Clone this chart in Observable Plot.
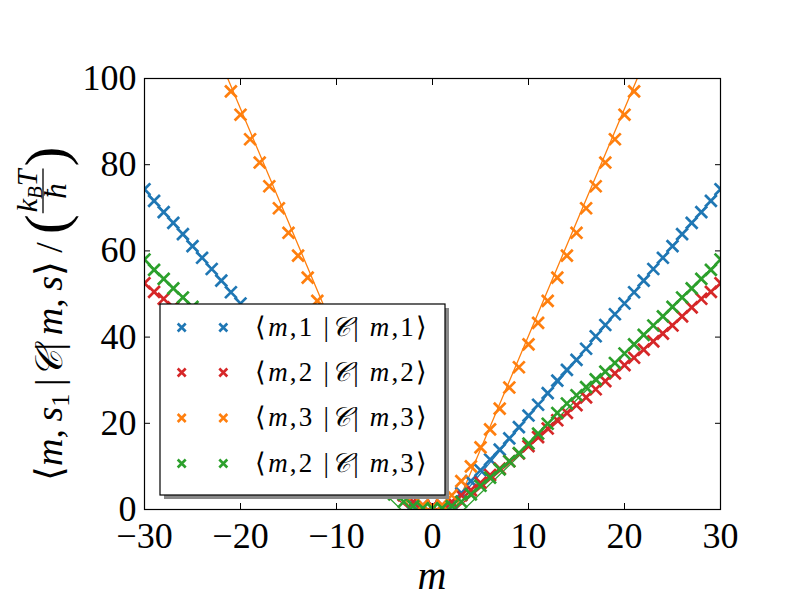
<!DOCTYPE html>
<html><head><meta charset="utf-8">
<script src="https://cdn.jsdelivr.net/npm/d3@7"></script>
<script src="https://cdn.jsdelivr.net/npm/@observablehq/plot@0.6"></script>
<style>body{margin:0;background:#fff} svg text{font-family:"Liberation Serif",serif !important}</style>
</head><body><div id="chart"></div>
<script>
// m values (integer quantum number)
const mAll = [-30,-29,-28,-27,-26,-25,-24,-23,-22,-21,-20,-19,-18,-17,-16,-15,-14,-13,-12,-11,-10,-9,-8,-7,-6,-5,-4,-3,-2,-1,0,1,2,3,4,5,6,7,8,9,10,11,12,13,14,15,16,17,18,19,20,21,22,23,24,25,26,27,28,29,30];
const mOrange = [-21,-20,-19,-18,-17,-16,-15,-14,-13,-12,-11,-10,-9,-8,-7,-6,-5,-4,-3,-2,-1,0,1,2,3,4,5,6,7,8,9,10,11,12,13,14,15,16,17,18,19,20,21];
// <m,1|C|m,1>
const blueVals = [74.3,71.6,69.0,66.5,63.9,61.1,58.4,55.8,53.1,50.4,47.8,45.3,42.8,40.2,37.3,34.7,32.4,29.9,27.0,24.3,21.8,19.1,16.5,13.9,11.6,9.1,6.6,3.8,1.6,0.9,0.7,0.9,1.6,3.8,6.6,9.1,11.6,13.9,16.5,19.1,21.8,24.3,27.0,29.9,32.4,34.7,37.3,40.2,42.8,45.3,47.8,50.4,53.1,55.8,58.4,61.1,63.9,66.5,69.0,71.6,74.3];
// <m,2|C|m,2>
const redVals = [52.5,50.5,48.9,46.9,44.8,42.7,40.8,39.0,37.1,35.2,33.5,31.6,29.8,27.9,26.0,24.2,22.4,20.7,18.8,16.8,14.7,13.0,11.2,9.5,8.0,6.2,4.5,3.3,1.8,1.0,0.8,1.0,1.8,3.3,4.5,6.2,8.0,9.5,11.2,13.0,14.7,16.8,18.8,20.7,22.4,24.2,26.0,27.9,29.8,31.6,33.5,35.2,37.1,39.0,40.8,42.7,44.8,46.9,48.9,50.5,52.5];
// <m,3|C|m,3>
const orangeVals = [97.0,91.6,85.9,80.5,75.0,69.9,64.2,58.9,53.8,48.4,43.3,38.3,33.0,28.3,23.4,18.6,14.4,10.0,6.6,3.3,1.0,0.6,1.0,3.3,6.6,10.0,14.4,18.6,23.4,28.3,33.0,38.3,43.3,48.4,53.8,58.9,64.2,69.9,75.0,80.5,85.9,91.6,97.0];
// <m,2|C|m,3>
const greenVals = [58.0,55.6,53.5,51.3,49.2,47.0,44.8,42.7,40.5,38.3,36.2,34.0,32.0,30.2,28.4,26.5,24.6,22.4,19.9,17.6,15.3,13.1,11.2,9.3,7.4,5.5,3.5,1.8,0.8,0.3,0.2,0.3,0.8,1.8,3.5,5.5,7.4,9.3,11.2,13.1,15.3,17.6,19.9,22.4,24.6,26.5,28.4,30.2,32.0,34.0,36.2,38.3,40.5,42.7,44.8,47.0,49.2,51.3,53.5,55.6,58.0];
// straight-line fits (m, value)
const fitM = [-30, 0, 30];
const blueFit = [74.3, -4.9, 74.3];
const redFit = [52.5, -4.5, 52.5];
const orangeFit = [145.7, -12.4, 145.7];
const greenFit = [58.0, -7.1, 58.0];

const seriesKeys = ["s11","s22","s33","s23"];
const seriesLabels = [["1","1"],["2","2"],["3","3"],["2","3"]];
const colors = ["#1f77b4","#d62728","#ff7f0e","#2ca02c"];
const xTicks = [-30,-20,-10,0,10,20,30];
const yTicks = [0,20,40,60,80,100];

const pts = [];
[[mAll,blueVals],[mAll,redVals],[mOrange,orangeVals],[mAll,greenVals]].forEach(([ms,vs],i)=>{
  ms.forEach((m,j)=>pts.push({m, v: vs[j], s: seriesKeys[i]}));
});
const fits = [];
[blueFit, redFit, orangeFit, greenFit].forEach((vs,i)=>fitM.forEach((m,j)=>fits.push({m, v: vs[j], s: seriesKeys[i]})));

const FS = 36;
const SERIF = '"Liberation Serif", serif';
const plot = Plot.plot({
  width: 800, height: 600,
  marginLeft: 144, marginRight: 80, marginTop: 78, marginBottom: 91,
  x: {domain: [-30, 30], label: null},
  y: {domain: [0, 100], label: null},
  color: {domain: seriesKeys, range: colors},
  marks: [
    Plot.line(fits, {x: "m", y: "v", z: "s", stroke: "s", strokeWidth: 1.3, clip: true}),
    Plot.dot(pts, {x: "m", y: "v", stroke: "s", symbol: "times", r: 5.4, strokeWidth: 2.7, clip: true}),
    Plot.frame({stroke: "black", strokeWidth: 1.2}),
    Plot.axisX({ticks: xTicks, anchor: "bottom", tickSize: 6, dy: -6, tickFormat: () => "", label: null}),
    Plot.axisX({ticks: xTicks, anchor: "top", tickSize: 6, dy: 6, tickFormat: () => "", label: null}),
    Plot.axisY({ticks: yTicks, anchor: "left", tickSize: 6, dx: 6, tickFormat: () => "", label: null}),
    Plot.axisY({ticks: yTicks, anchor: "right", tickSize: 6, dx: -6, tickFormat: () => "", label: null}),
    Plot.axisX({ticks: xTicks, anchor: "bottom", tickSize: 0, tickPadding: 13, fontSize: FS, label: null}),
    Plot.axisY({ticks: yTicks, anchor: "left", tickSize: 0, tickPadding: 8, fontSize: FS, label: null})
  ]
});
document.getElementById("chart").appendChild(plot);
const svg = d3.select(plot);
svg.style("font-family", SERIF).style("background", "#fff");

function T(sel) { return sel.append("text").attr("font-family", SERIF).attr("text-anchor", "start").attr("fill", "#000"); }

// x label
T(svg).attr("x", 432).attr("y", 589).attr("text-anchor", "middle")
  .attr("font-size", 40).attr("font-style", "italic").text("m");

// legend
const lg = svg.append("g");
lg.append("rect").attr("x", 164).attr("y", 308).attr("width", 285).attr("height", 191).attr("fill", "#888");
lg.append("rect").attr("x", 160).attr("y", 304).attr("width", 285).attr("height", 191).attr("fill", "#fff").attr("stroke", "#000").attr("stroke-width", 1.2);
const rowY = [327.5, 372.5, 418, 463.5];
seriesKeys.forEach((k, i) => {
  [181.7, 223.3].forEach(cx => {
    const s = 4.0;
    lg.append("path").attr("d", `M${cx-s},${rowY[i]-s}L${cx+s},${rowY[i]+s}M${cx-s},${rowY[i]+s}L${cx+s},${rowY[i]-s}`)
      .attr("stroke", colors[i]).attr("stroke-width", 2.6).attr("fill", "none");
  });
  const t = T(lg).attr("x", 255).attr("y", rowY[i] + 8).attr("font-size", 27)
    .attr("textLength", 172).attr("lengthAdjust", "spacing");
  const [a, b] = seriesLabels[i];
  t.append("tspan").text("⟨");
  t.append("tspan").attr("font-style", "italic").text("m");
  t.append("tspan").text("," + a + " |");
  t.append("tspan").attr("font-style", "italic").text("𝒞");
  t.append("tspan").text("| ");
  t.append("tspan").attr("font-style", "italic").text("m");
  t.append("tspan").text("," + b + "⟩");
});

// y label (rotated)
const yl = svg.append("g").attr("transform", "translate(62,481) rotate(-90)");
const tA = T(yl).attr("x", 0).attr("y", 0).attr("font-size", 38);
tA.append("tspan").text("⟨");
tA.append("tspan").attr("font-style", "italic").text("m");
tA.append("tspan").text(",\u2009");
tA.append("tspan").attr("font-style", "italic").text("s");
tA.append("tspan").attr("font-size", 26).attr("dy", 7).text("1");
tA.append("tspan").attr("dy", -7).text("\u2009|");
tA.append("tspan").attr("font-style", "italic").text("𝒞");
tA.append("tspan").text("|\u2009");
tA.append("tspan").attr("font-style", "italic").text("m");
tA.append("tspan").text(",\u2009");
tA.append("tspan").attr("font-style", "italic").text("s");
tA.append("tspan").text("⟩");
const wA = tA.node().getComputedTextLength();
const sl = T(yl).attr("x", wA + 8).attr("y", 0).attr("font-size", 38).text("/");
const wS = sl.node().getComputedTextLength();
const px = wA + 8 + wS + 8;
const lp = T(yl).attr("x", px).attr("y", 4).attr("font-size", 60).text("(");
const wP = lp.node().getComputedTextLength();
const num = T(yl).attr("y", -25).attr("font-size", 30).attr("text-anchor", "middle");
num.append("tspan").attr("font-style", "italic").text("k");
num.append("tspan").attr("font-style", "italic").attr("font-size", 21).attr("dy", 5).text("B");
num.append("tspan").attr("font-style", "italic").attr("dy", -5).text("T");
const wN = num.node().getComputedTextLength();
const fx = px + wP + 2 + wN / 2;
num.attr("x", fx);
T(yl).attr("x", fx).attr("y", 4).attr("font-size", 31).attr("font-style", "italic").attr("text-anchor", "middle").text("ħ");
yl.append("line").attr("x1", fx - wN / 2 - 1).attr("x2", fx + wN / 2 + 1).attr("y1", -19).attr("y2", -19).attr("stroke", "#000").attr("stroke-width", 1.3);
T(yl).attr("x", fx + wN / 2 + 3).attr("y", 4).attr("font-size", 60).text(")");
</script></body></html>
